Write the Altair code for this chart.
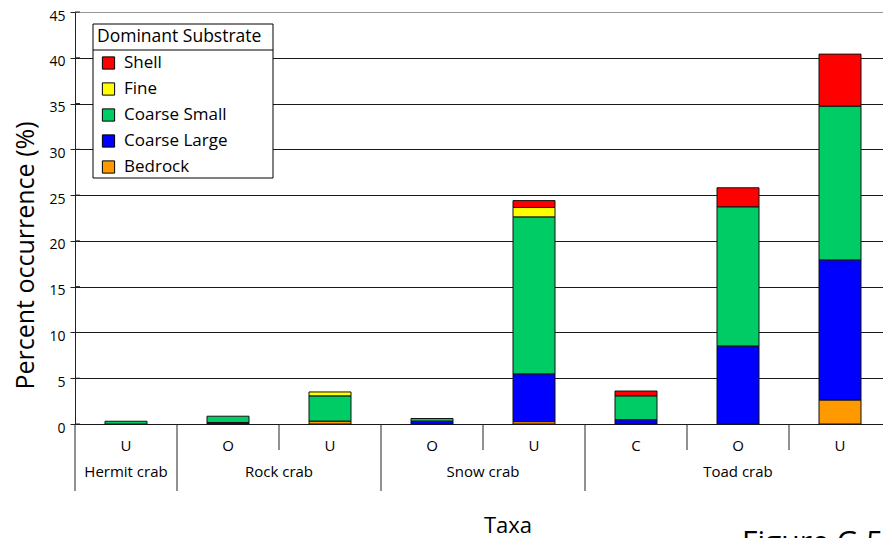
import altair as alt
import pandas as pd

# ---- data ----
taxa = ["Hermit crab", "Rock crab", "Rock crab", "Snow crab", "Snow crab",
        "Toad crab", "Toad crab", "Toad crab"]
subgroups = ["U", "O", "U", "O", "U", "C", "O", "U"]
substrates = ["Shell", "Fine", "Coarse Small", "Coarse Large", "Bedrock"]
colors = ["#FF0000", "#FFFF00", "#00CC66", "#0000FF", "#FF9900"]

bedrock = [0, 0, 0.3, 0, 0.25, 0, 0, 2.6]
coarse_large = [0, 0.15, 0, 0.3, 5.2, 0.45, 8.5, 15.3]
coarse_small = [0.3, 0.7, 2.75, 0.3, 17.15, 2.6, 15.2, 16.8]
fine = [0, 0, 0.45, 0, 1.05, 0, 0, 0]
shell = [0, 0, 0, 0, 0.75, 0.55, 2.1, 5.7]

y_ticks = [0, 5, 10, 15, 20, 25, 30, 35, 40, 45]

series = {"Shell": shell, "Fine": fine, "Coarse Small": coarse_small,
          "Coarse Large": coarse_large, "Bedrock": bedrock}
stack_rank = {"Bedrock": 0, "Coarse Large": 1, "Coarse Small": 2, "Fine": 3, "Shell": 4}

rows = []
for name, vals in series.items():
    for i, v in enumerate(vals):
        if v > 0:
            rows.append({"pos": i + 0.5, "substrate": name, "value": v,
                         "rank": stack_rank[name]})
bars_df = pd.DataFrame(rows)

labels_df = pd.DataFrame({"pos": [i + 0.5 for i in range(len(subgroups))],
                          "sub": subgroups, "taxon": taxa})
groups_df = labels_df.groupby("taxon", as_index=False)["pos"].mean()

# boundaries between groups (long) and between sub-categories (short)
long_b = [0] + [i for i in range(1, len(taxa)) if taxa[i] != taxa[i - 1]]
short_b = [i for i in range(1, len(taxa)) if taxa[i] == taxa[i - 1]]

FONT = "Open Sans"
SLOT = 102                 # pixels per category slot
W, H = 808, 412            # plot area (right edge of the last slot is cut off, as in the reference)
xscale = alt.Scale(domain=[0, W / SLOT], nice=False, zero=False, padding=0)
yscale = alt.Scale(domain=[0, 45], nice=False)

# legend frame (drawn as marks, legend content on top)
legend_box = alt.Chart(pd.DataFrame({"t": ["box"]})).mark_rect(
    fill="white", stroke="#000", strokeWidth=1).encode(
    x=alt.value(18), x2=alt.value(198), y=alt.value(12), y2=alt.value(166))
title_line = alt.Chart(pd.DataFrame({"t": ["line"]})).mark_rule(
    color="#000").encode(x=alt.value(18), x2=alt.value(198), y=alt.value(38))

bars = alt.Chart(bars_df).mark_bar(size=42, stroke="#111", strokeWidth=1).encode(
    x=alt.X("pos:Q", scale=xscale, axis=None),
    y=alt.Y("value:Q", stack="zero", scale=yscale,
            axis=alt.Axis(values=y_ticks, grid=True,
                          gridColor={"condition": {"test": "datum.value === 45",
                                                   "value": "#888888"},
                                     "value": "#000000"},
                          gridOpacity=0.9, domainColor="#222", tickColor="#222",
                          tickSize=5, labelFontSize=14, labelPadding=5,
                          labelOffset=4,
                          labelColor="#000", title="Percent occurrence (%)",
                          titleFontSize=25, titleFontWeight="normal", titleColor="#000",
                          titleX=-50, titleY=243, titleAngle=-90,
                          titleBaseline="middle", titleAlign="center")),
    color=alt.Color("substrate:N",
                    scale=alt.Scale(domain=substrates, range=colors),
                    legend=alt.Legend(title="Dominant Substrate", orient="none",
                                      legendX=18, legendY=12,
                                      padding=4, titlePadding=9,
                                      symbolType="square", symbolSize=150,
                                      symbolStrokeColor="#000", symbolStrokeWidth=1,
                                      symbolOpacity=1, symbolOffset=3,
                                      labelOffset=7, rowPadding=8,
                                      labelFontSize=17, titleFontSize=17.5,
                                      titleFontWeight="normal", labelColor="#000",
                                      titleColor="#000", labelFont=FONT,
                                      titleFont=FONT)),
    order=alt.Order("rank:Q", sort="ascending"),
)

inner_ticks = alt.Chart(pd.DataFrame({"v": y_ticks})).mark_rule(color="#222").encode(
    y=alt.Y("v:Q", scale=yscale), x=alt.value(0), x2=alt.value(5))

long_rules = alt.Chart(pd.DataFrame({"b": long_b})).mark_rule(color="#222").encode(
    x=alt.X("b:Q", scale=xscale), y=alt.value(H), y2=alt.value(H + 67))
short_rules = alt.Chart(pd.DataFrame({"b": short_b})).mark_rule(color="#222").encode(
    x=alt.X("b:Q", scale=xscale), y=alt.value(H), y2=alt.value(H + 26))

sub_text = alt.Chart(labels_df).mark_text(fontSize=15, font=FONT, color="#000",
                                          baseline="alphabetic").encode(
    x=alt.X("pos:Q", scale=xscale), y=alt.value(H + 27), text="sub:N")
grp_text = alt.Chart(groups_df).mark_text(fontSize=15, font=FONT, color="#000",
                                          baseline="alphabetic").encode(
    x=alt.X("pos:Q", scale=xscale), y=alt.value(H + 53), text="taxon:N")

taxa_title = alt.Chart(pd.DataFrame({"t": ["Taxa"]})).mark_text(
    fontSize=22, font=FONT, color="#000", baseline="alphabetic").encode(
    x=alt.value(433), y=alt.value(521), text="t:N")
fig_title = alt.Chart(pd.DataFrame({"t": ["Figure G.5"]})).mark_text(
    fontSize=30, font=FONT, color="#000", baseline="alphabetic", align="left").encode(
    x=alt.value(667), y=alt.value(540), text="t:N")

chart = alt.layer(legend_box, title_line, bars, inner_ticks, long_rules, short_rules,
                  sub_text, grp_text, taxa_title, fig_title).properties(
    width=W, height=H,
    autosize=alt.AutoSizeParams(type="none"),
    padding={"left": 67, "top": 4, "right": 0, "bottom": 114},
).configure(font=FONT).configure_view(stroke=None)

chart.save("out.html", embed_options={"renderer": "svg", "actions": False})
